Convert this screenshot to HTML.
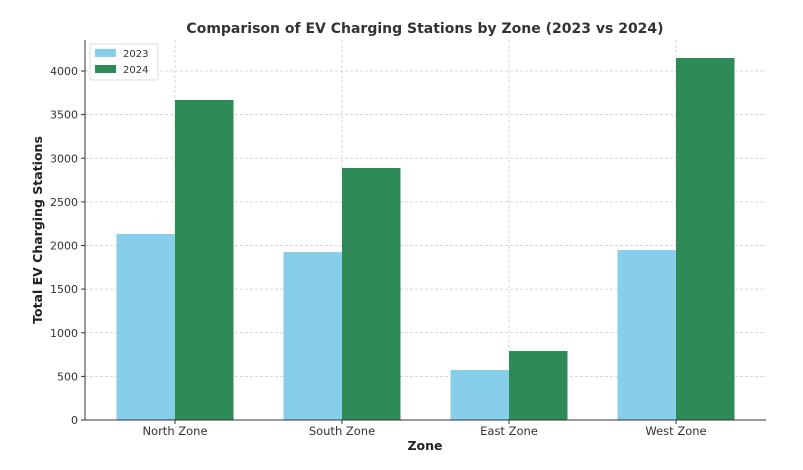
<!DOCTYPE html>
<html><head><meta charset="utf-8"><style>
body{margin:0;background:#fff;font-family:"Liberation Sans","DejaVu Sans",sans-serif;}
svg text{font-family:"DejaVu Sans","Liberation Sans",sans-serif;}
</style></head><body>
<svg id="chart" width="803" height="465" xmlns="http://www.w3.org/2000/svg">
<text x="425" y="33" text-anchor="middle" font-size="14" font-weight="bold" fill="#333">Comparison of EV Charging Stations by Zone (2023 vs 2024)</text>
<text x="425" y="450" text-anchor="middle" font-size="12.5" font-weight="bold" fill="#222">Zone</text>
<text transform="translate(42,230) rotate(-90)" text-anchor="middle" font-size="12.5" font-weight="bold" fill="#222">Total EV Charging Stations</text>
<g id="grid"></g><g id="bars"></g><g id="axes"></g>
<g>
<rect x="90" y="44" width="68" height="36" rx="2" fill="#fff" stroke="#ddd"/>
<rect x="95" y="49" width="21" height="8" fill="#87ceeb"/>
<text x="123" y="57" font-size="10" fill="#333">2023</text>
<rect x="95" y="65" width="21" height="8" fill="#2e8b57"/>
<text x="123" y="73" font-size="10" fill="#333">2024</text>
</g>
</svg>
<script>
const categories=["North Zone","South Zone","East Zone","West Zone"];
const values2023=[2132,1925,573,1948];
const values2024=[3668,2888,791,4149];
const yTicks=[0,500,1000,1500,2000,2500,3000,3500,4000];
const NS="http://www.w3.org/2000/svg";
const x0=85,x1=766,yBase=420;
function yScale(v){return yBase-v*0.08725;}
function xCenter(i){return 175+i*167;}
const bw=58.5;
function mk(parent,tag,attrs){const e=document.createElementNS(NS,tag);for(const k in attrs)e.setAttribute(k,attrs[k]);document.getElementById(parent).appendChild(e);return e;}
yTicks.forEach(t=>{
  const y=yScale(t);
  if(t>0){const g=mk('grid','line',{x1:x0,x2:x1,y1:y,y2:y,stroke:'#ccc','stroke-dasharray':'3,2','stroke-width':0.8});
  
  }
  const tk=mk('axes','line',{x1:x0-4,x2:x0,y1:y,y2:y,stroke:'#333'});
  
  
  const tx=mk('axes','text',{x:x0-7,y:y+4,'text-anchor':'end','font-size':11,fill:'#333'});
  tx.textContent=t;
  
  
});
categories.forEach((c,i)=>{
  const cx=xCenter(i);
  const g=mk('grid','line',{x1:cx,x2:cx,y1:40,y2:yBase,stroke:'#ccc','stroke-dasharray':'3,2','stroke-width':0.8});
  
  
  const a=mk('bars','rect',{x:cx-bw,y:yScale(values2023[i]),width:bw,height:yBase-yScale(values2023[i]),fill:'#87ceeb'});
  
  
  const b=mk('bars','rect',{x:cx,y:yScale(values2024[i]),width:bw,height:yBase-yScale(values2024[i]),fill:'#2e8b57'});
  
  
  const tk=mk('axes','line',{x1:cx,x2:cx,y1:yBase,y2:yBase+4,stroke:'#333'});
  
  
  const tx=mk('axes','text',{x:cx,y:yBase+15,'text-anchor':'middle','font-size':11.5,fill:'#333'});
  tx.textContent=c;
  
  
});
const l=mk('axes','line',{x1:x0,x2:x0,y1:40,y2:yBase,stroke:'#333','stroke-width':1});


const bl=mk('axes','line',{x1:x0,x2:x1,y1:yBase,y2:yBase,stroke:'#333','stroke-width':1});


</script>
</body></html>
